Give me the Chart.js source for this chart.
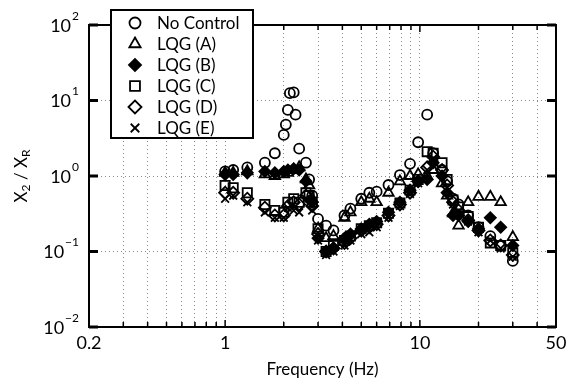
<!DOCTYPE html>
<html>
<head>
<meta charset="utf-8">
<script src="https://cdn.jsdelivr.net/npm/chart.js@4.4.1/dist/chart.umd.min.js"></script>
<style>
  html, body { margin: 0; padding: 0; background: #fff; }
</style>
</head>
<body>
<canvas id="chart" width="575" height="382"></canvas>
<script>
// frequencies (Hz) shared by all runs
const freq = [1.0, 1.1, 1.3, 1.6, 1.8, 2.0, 2.05, 2.1, 2.15, 2.25, 2.3, 2.4, 2.6, 2.7, 2.8, 3.0, 3.3, 3.6, 4.1, 4.4,
  5.0, 5.5, 6.0, 6.9, 7.9, 8.9, 9.8, 10.9, 11.7, 13.0, 13.8, 14.8, 15.8, 17.7, 20, 23, 26, 30];

// X2 / XR for each run (null = no point)
const noControl = [1.15, 1.2, 1.3, 1.5, 2.0, 3.5, 4.8, 7.5, 12.5, 12.8, 6.5, 2.3, 1.5, 0.9, 0.55, 0.27, 0.22, 0.19, 0.3, 0.37,
  0.5, 0.6, 0.62, 0.76, 1.03, 1.45, 2.8, 6.5, 2.0, 1.2, 0.85, 0.5, 0.42, 0.3, 0.21, 0.16, 0.12, 0.075];
const lqgA = [1.1, 1.1, 1.15, 1.05, 1.0, 1.05, null, 1.1, null, 1.2, null, 1.3, 0.9, 0.75, 0.5, 0.2, 0.15, 0.16, 0.28, 0.33,
  0.45, 0.5, 0.45, 0.6, 0.85, 1.0, 1.05, 1.0, 1.2, 0.8, 0.55, 0.32, 0.22, 0.45, 0.53, 0.53, 0.45, 0.155];
const lqgB = [1.05, 1.05, 1.1, 1.15, 1.1, 1.15, null, 1.2, null, 1.25, null, 1.2, 0.85, null, 0.45, 0.15, 0.1, 0.11, 0.15, 0.17,
  0.2, 0.23, 0.25, 0.33, 0.45, 0.65, 0.85, 0.9, 1.5, 1.0, 0.6, 0.3, 0.3, 0.25, 0.2, 0.28, 0.21, 0.12];
const lqgC = [0.75, 0.7, 0.6, 0.42, 0.35, 0.33, null, 0.45, null, 0.5, null, 0.45, 0.6, 0.55, 0.45, 0.2, 0.1, 0.12, 0.14, 0.16,
  0.2, 0.22, 0.24, 0.32, 0.44, 0.65, 0.9, 2.1, 2.0, 1.5, 0.9, 0.48, 0.39, 0.29, 0.21, 0.13, 0.12, 0.096];
const lqgD = [0.6, 0.6, 0.5, 0.38, 0.3, 0.3, null, 0.4, null, 0.45, null, 0.42, 0.55, null, 0.4, 0.17, 0.1, 0.11, 0.13, 0.15,
  0.19, 0.21, 0.23, 0.3, 0.42, 0.6, 0.85, 1.3, 1.8, 1.2, 0.75, 0.45, 0.35, 0.26, 0.19, 0.14, 0.12, 0.09];
const lqgE = [0.5, 0.55, 0.45, 0.33, 0.28, 0.28, null, 0.38, null, 0.35, null, 0.33, 0.5, null, 0.35, 0.14, 0.09, 0.1, 0.12, 0.14,
  0.17, 0.18, 0.21, 0.28, 0.4, 0.58, 0.8, 1.2, 1.7, 1.1, 0.7, 0.42, 0.33, 0.25, 0.18, 0.14, 0.11, 0.085];

const seriesNames = ['No Control', 'LQG (A)', 'LQG (B)', 'LQG (C)', 'LQG (D)', 'LQG (E)'];
const xTicks = [0.2, 0.3, 0.4, 0.5, 0.6, 0.7, 0.8, 0.9, 1, 2, 3, 4, 5, 6, 7, 8, 9, 10, 20, 30, 40, 50];
const xLabels = [0.2, 1, 10, 50];
const yTicks = [0.01, 0.1, 1, 10, 100];

const FONT = 'Lato, "Open Sans", sans-serif';

function pts(vals) {
  return freq.map((f, i) => ({ x: f, y: vals[i] })).filter(p => p.y != null);
}

function ds(label, vals, style, radius, fill) {
  return {
    label,
    data: pts(vals),
    pointStyle: style,
    pointRadius: radius,
    pointHoverRadius: radius,
    pointBorderWidth: 1.8,
    borderColor: '#000',
    backgroundColor: fill ? '#000' : 'rgba(0,0,0,0)',
    showLine: false
  };
}

// frame, inward ticks, tick labels, axis titles and boxed legend
const decor = {
  id: 'decor',
  afterDraw(chart) {
    const { ctx, chartArea: a, scales } = chart;
    const xs = scales.x, ys = scales.y;
    ctx.save();
    ctx.strokeStyle = '#000';
    ctx.fillStyle = '#000';

    // x ticks (bottom and top, pointing in)
    ctx.lineWidth = 1.5;
    xTicks.forEach(v => {
      const px = xs.getPixelForValue(v);
      const len = (v === 1 || v === 10) ? 7 : 5;
      ctx.beginPath();
      ctx.moveTo(px, a.bottom); ctx.lineTo(px, a.bottom - len);
      ctx.moveTo(px, a.top); ctx.lineTo(px, a.top + len);
      ctx.stroke();
    });
    // y ticks (left and right, thick)
    ctx.lineWidth = 3;
    yTicks.forEach(v => {
      const py = ys.getPixelForValue(v);
      ctx.beginPath();
      ctx.moveTo(a.left, py); ctx.lineTo(a.left + 9, py);
      ctx.moveTo(a.right, py); ctx.lineTo(a.right - 9, py);
      ctx.stroke();
    });

    // frame
    ctx.lineWidth = 2;
    ctx.strokeRect(a.left, a.top, a.right - a.left, a.bottom - a.top);

    // y tick labels 10^n
    yTicks.forEach(v => {
      const py = ys.getPixelForValue(v);
      const exp = String(Math.round(Math.log10(v))).replace('-', '\u2212');
      ctx.font = '12px ' + FONT;
      ctx.textBaseline = 'middle';
      ctx.textAlign = 'right';
      const ew = ctx.measureText(exp).width;
      ctx.fillText(exp, 79, py - 9);
      ctx.font = '18px ' + FONT;
      ctx.fillText('10', 79 - ew - 1, py + 1);
    });

    // x tick labels
    ctx.font = '18px ' + FONT;
    ctx.textAlign = 'center';
    ctx.textBaseline = 'middle';
    xLabels.forEach(v => {
      ctx.fillText(String(v), xs.getPixelForValue(v), a.bottom + 16);
    });

    // x title
    ctx.font = '17px ' + FONT;
    ctx.fillText('Frequency (Hz)', (a.left + a.right) / 2, a.bottom + 43);

    // y title X2 / XR with subscripts
    ctx.save();
    ctx.translate(22, (a.top + a.bottom) / 2);
    ctx.rotate(-Math.PI / 2);
    const parts = [['X', 17, 0], ['2', 12, 4], [' / X', 17, 0], ['R', 12, 4]];
    let total = 0;
    parts.forEach(p => { ctx.font = p[1] + 'px ' + FONT; total += ctx.measureText(p[0]).width; });
    let cx = -total / 2;
    ctx.textAlign = 'left';
    parts.forEach(p => {
      ctx.font = p[1] + 'px ' + FONT;
      ctx.fillText(p[0], cx, p[2]);
      cx += ctx.measureText(p[0]).width;
    });
    ctx.restore();

    // legend box
    const lx = 111, ly = 10, lw = 142, lh = 128;
    ctx.fillStyle = '#fff';
    ctx.fillRect(lx, ly, lw, lh);
    ctx.lineWidth = 2;
    ctx.strokeStyle = '#000';
    ctx.strokeRect(lx, ly, lw, lh);
    chart.data.datasets.forEach((d, i) => {
      const y = 23 + i * 21;
      ctx.lineWidth = d.pointBorderWidth;
      ctx.strokeStyle = '#000';
      ctx.fillStyle = d.backgroundColor === '#000' ? '#000' : '#fff';
      Chart.helpers.drawPoint(ctx, { pointStyle: d.pointStyle, radius: d.pointRadius + 0.5, rotation: 0, borderWidth: d.pointBorderWidth }, 135, y);
      ctx.fillStyle = '#000';
      ctx.font = '17px ' + FONT;
      ctx.textAlign = 'left';
      ctx.textBaseline = 'middle';
      ctx.fillText(d.label, 157, y + 1);
    });
    ctx.restore();
  }
};

new Chart(document.getElementById('chart'), {
  type: 'scatter',
  data: {
    datasets: [
      ds(seriesNames[0], noControl, 'circle', 5, false),
      ds(seriesNames[1], lqgA, 'triangle', 6, false),
      ds(seriesNames[2], lqgB, 'rectRot', 5.5, true),
      ds(seriesNames[3], lqgC, 'rect', 6.5, false),
      ds(seriesNames[4], lqgD, 'rectRot', 6, false),
      ds(seriesNames[5], lqgE, 'crossRot', 5.5, false)
    ]
  },
  options: {
    responsive: false,
    devicePixelRatio: 1,
    animation: false,
    layout: { padding: { left: 89, right: 19, top: 25, bottom: 55 } },
    plugins: { legend: { display: false }, tooltip: { enabled: false } },
    scales: {
      x: {
        type: 'logarithmic',
        min: 0.2,
        max: 50,
        afterBuildTicks: s => { s.ticks = xTicks.map(v => ({ value: v })); },
        ticks: { display: false },
        border: { display: false, dash: [1, 3] },
        grid: { color: '#8a8a8a', lineWidth: 1, drawTicks: false }
      },
      y: {
        type: 'logarithmic',
        min: 0.01,
        max: 100,
        afterBuildTicks: s => { s.ticks = yTicks.map(v => ({ value: v })); },
        ticks: { display: false },
        border: { display: false, dash: [1, 3] },
        grid: { color: '#8a8a8a', lineWidth: 1, drawTicks: false }
      }
    }
  },
  plugins: [decor]
});
</script>
</body>
</html>
